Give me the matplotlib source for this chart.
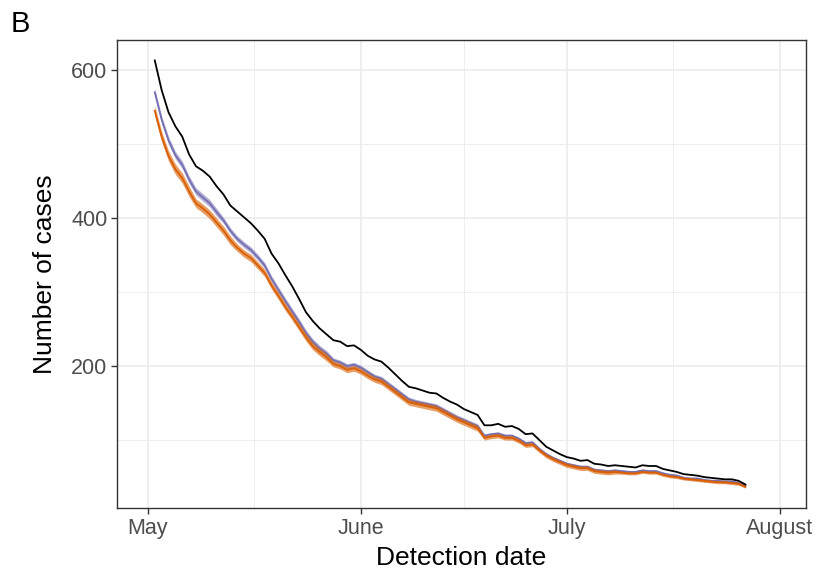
import numpy as np
import matplotlib as mpl
import matplotlib.pyplot as plt
import matplotlib.dates as mdates
from datetime import date, timedelta

mpl.use('Agg')
plt.rcParams['font.family'] = ['Liberation Sans', 'DejaVu Sans']

# ~~~~~~~~~~ data (daily, 2 May .. 27 July) ~~~~~~~~~~ #
start_day = date(2020, 5, 2)

observed = [613, 573, 543, 524, 510, 486, 470, 464, 456, 443,
            432, 417, 409, 401, 393, 383, 372, 352, 339, 323,
            308, 291, 273, 261, 251, 243, 235, 233, 227, 228,
            222, 214, 209, 206, 198, 189, 180, 172, 170, 167,
            164, 163, 157, 152, 148, 142, 138, 134, 120, 120,
            122, 118, 119, 115, 108, 109, 100, 91, 86, 81,
            77, 75, 72, 73, 68, 67, 65, 66, 65, 64,
            63, 66, 65, 65, 61, 59, 57, 54, 53, 52,
            50, 49, 48, 47, 47, 45, 40]

model_blue = [570, 533, 505, 485, 472, 452, 436, 428, 420, 408,
              397, 383, 372, 364, 357, 347, 336, 318, 303, 288,
              274, 260, 245, 233, 224, 217, 208, 205, 200, 202,
              198, 192, 186, 183, 176, 169, 162, 155, 152, 150,
              148, 146, 141, 136, 131, 127, 123, 119, 106, 108,
              109, 106, 106, 102, 96, 97, 88, 81, 76, 72,
              68, 66, 64, 64, 60, 59, 58, 59, 58, 57,
              57, 59, 58, 58, 55, 53, 52, 49, 48, 48,
              46, 45, 45, 44, 44, 42, 38]

model_orange = [545, 510, 484, 466, 454, 436, 420, 413, 405, 394,
                383, 370, 360, 352, 346, 336, 326, 309, 295, 280,
                267, 253, 239, 227, 219, 212, 203, 200, 195, 197,
                193, 187, 182, 179, 172, 165, 158, 151, 149, 147,
                145, 143, 138, 133, 128, 124, 120, 116, 103, 105,
                106, 103, 103, 99, 93, 94, 86, 79, 74, 70,
                66, 64, 62, 62, 58, 57, 56, 57, 56, 55,
                55, 57, 56, 56, 53, 51, 50, 48, 47, 46,
                45, 44, 43, 43, 42, 41, 37]

# half widths of the shaded bands
blue_band = [5]*10 + [4]*16 + [3]*22 + [2]*39
orange_band = [7]*6 + [6]*6 + [5]*14 + [4]*22 + [3]*20 + [2]*19

days = [start_day + timedelta(days=i) for i in range(len(observed))]

month_breaks = [date(2020, 5, 1), date(2020, 6, 1), date(2020, 7, 1), date(2020, 8, 1)]
month_labels = ["May", "June", "July", "August"]
case_breaks = [200, 400, 600]

BLUE = "#7570B3"
ORANGE = "#D95F02"
TXT = "#4D4D4D"
GRID = "#EBEBEB"

fig = plt.figure(figsize=(8.24, 5.76), dpi=100)
ax = fig.add_axes([0.142, 0.118, 0.836, 0.813])

blue = np.array(model_blue)
orange = np.array(model_orange)
ax.fill_between(days, blue - np.array(blue_band), blue + np.array(blue_band),
                color=BLUE, alpha=0.55, linewidth=0, zorder=3)
ax.plot(days, blue, color=BLUE, lw=1.3, zorder=4)
ax.fill_between(days, orange - np.array(orange_band), orange + np.array(orange_band),
                color=ORANGE, alpha=0.6, linewidth=0, zorder=5)
ax.plot(days, orange, color=ORANGE, lw=1.3, zorder=6)
ax.plot(days, observed, color="black", lw=1.3, zorder=7)

# axes, ggplot theme_bw look
ax.set_xlim(mdates.date2num(date(2020, 5, 1)) - 4.5, mdates.date2num(date(2020, 8, 1)) + 3.8)
ax.set_ylim(8.2, 641)
ax.set_xticks(month_breaks)
ax.set_xticklabels(month_labels)
ax.set_yticks(case_breaks)
mnum = mdates.date2num(month_breaks)
ax.set_xticks([(mnum[i] + mnum[i + 1]) / 2 for i in range(3)], minor=True)
ax.set_yticks([100, 300, 500], minor=True)

ax.grid(True, which='major', color=GRID, lw=1.1, zorder=0)
ax.grid(True, which='minor', color=GRID, lw=0.6, zorder=0)
ax.set_axisbelow(True)
for s in ax.spines.values():
    s.set_color("#333333")
    s.set_linewidth(1.0)
ax.tick_params(which='major', length=4, width=1.0, color="#333333",
               labelsize=15.5, labelcolor=TXT, pad=3)
ax.tick_params(which='minor', length=0)

ax.set_xlabel("Detection date", fontsize=19, va='center')
ax.set_ylabel("Number of cases", fontsize=19, va='center')
ax.xaxis.set_label_coords(0.5, -0.107)
ax.yaxis.set_label_coords(-0.104, 0.5)
fig.text(0.013, 0.958, "B", fontsize=21, va='center', ha='left')

fig.savefig("out.png", dpi=100)
